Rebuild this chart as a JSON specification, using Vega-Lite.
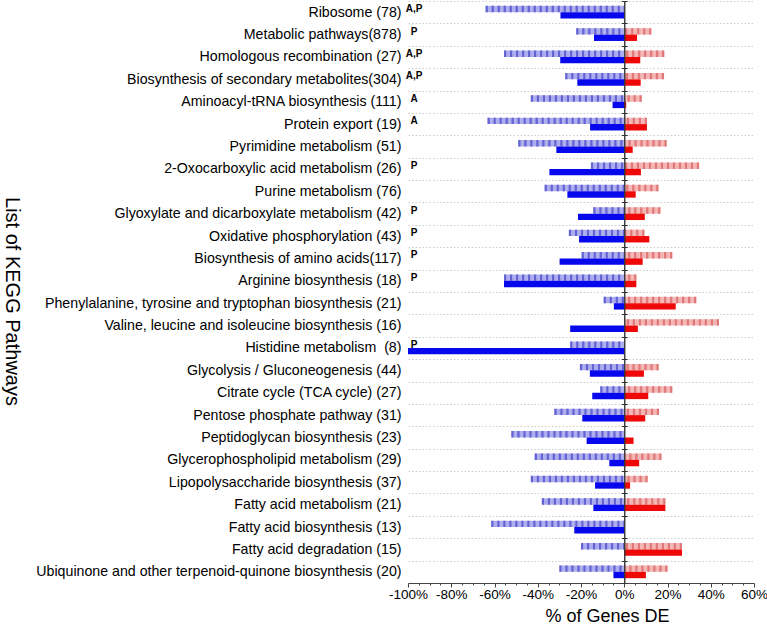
{
  "$schema": "https://vega.github.io/schema/vega-lite/v6.json",
  "width": 346,
  "height": 582,
  "autosize": "none",
  "padding": {"left": 408, "top": 1, "right": 13, "bottom": 47},
  "background": "white",
  "config": {
    "font": "Liberation Sans",
    "view": {"stroke": null},
    "axis": {"labelFont": "Liberation Sans", "titleFont": "Liberation Sans", "titleFontWeight": "normal"}
  },
  "datasets": {
    "bars": [
      {"p": "Ribosome (78)", "t": "h", "v": -64.1},
      {"p": "Ribosome (78)", "t": "s", "v": -29.5},
      {"p": "Metabolic pathways(878)", "t": "h", "v": -22.2},
      {"p": "Metabolic pathways(878)", "t": "s", "v": -14.0},
      {"p": "Metabolic pathways(878)", "t": "h", "v": 12.5},
      {"p": "Metabolic pathways(878)", "t": "s", "v": 5.9},
      {"p": "Homologous recombination (27)", "t": "h", "v": -55.6},
      {"p": "Homologous recombination (27)", "t": "s", "v": -29.6},
      {"p": "Homologous recombination (27)", "t": "h", "v": 18.5},
      {"p": "Homologous recombination (27)", "t": "s", "v": 7.4},
      {"p": "Biosynthesis of secondary metabolites(304)", "t": "h", "v": -27.3},
      {"p": "Biosynthesis of secondary metabolites(304)", "t": "s", "v": -21.7},
      {"p": "Biosynthesis of secondary metabolites(304)", "t": "h", "v": 18.4},
      {"p": "Biosynthesis of secondary metabolites(304)", "t": "s", "v": 7.6},
      {"p": "Aminoacyl-tRNA biosynthesis (111)", "t": "h", "v": -43.2},
      {"p": "Aminoacyl-tRNA biosynthesis (111)", "t": "s", "v": -5.4},
      {"p": "Aminoacyl-tRNA biosynthesis (111)", "t": "h", "v": 8.1},
      {"p": "Aminoacyl-tRNA biosynthesis (111)", "t": "s", "v": 0.9},
      {"p": "Protein export (19)", "t": "h", "v": -63.2},
      {"p": "Protein export (19)", "t": "s", "v": -15.8},
      {"p": "Protein export (19)", "t": "h", "v": 10.5},
      {"p": "Protein export (19)", "t": "s", "v": 10.5},
      {"p": "Pyrimidine metabolism (51)", "t": "h", "v": -49.0},
      {"p": "Pyrimidine metabolism (51)", "t": "s", "v": -31.4},
      {"p": "Pyrimidine metabolism (51)", "t": "h", "v": 19.6},
      {"p": "Pyrimidine metabolism (51)", "t": "s", "v": 3.9},
      {"p": "2-Oxocarboxylic acid metabolism (26)", "t": "h", "v": -15.4},
      {"p": "2-Oxocarboxylic acid metabolism (26)", "t": "s", "v": -34.6},
      {"p": "2-Oxocarboxylic acid metabolism (26)", "t": "h", "v": 34.6},
      {"p": "2-Oxocarboxylic acid metabolism (26)", "t": "s", "v": 7.7},
      {"p": "Purine metabolism (76)", "t": "h", "v": -36.8},
      {"p": "Purine metabolism (76)", "t": "s", "v": -26.3},
      {"p": "Purine metabolism (76)", "t": "h", "v": 15.8},
      {"p": "Purine metabolism (76)", "t": "s", "v": 5.3},
      {"p": "Glyoxylate and dicarboxylate metabolism (42)", "t": "h", "v": -14.3},
      {"p": "Glyoxylate and dicarboxylate metabolism (42)", "t": "s", "v": -21.4},
      {"p": "Glyoxylate and dicarboxylate metabolism (42)", "t": "h", "v": 16.7},
      {"p": "Glyoxylate and dicarboxylate metabolism (42)", "t": "s", "v": 9.5},
      {"p": "Oxidative phosphorylation (43)", "t": "h", "v": -25.6},
      {"p": "Oxidative phosphorylation (43)", "t": "s", "v": -20.9},
      {"p": "Oxidative phosphorylation (43)", "t": "h", "v": 9.3},
      {"p": "Oxidative phosphorylation (43)", "t": "s", "v": 11.6},
      {"p": "Biosynthesis of amino acids(117)", "t": "h", "v": -19.7},
      {"p": "Biosynthesis of amino acids(117)", "t": "s", "v": -29.9},
      {"p": "Biosynthesis of amino acids(117)", "t": "h", "v": 22.2},
      {"p": "Biosynthesis of amino acids(117)", "t": "s", "v": 8.5},
      {"p": "Arginine biosynthesis (18)", "t": "h", "v": -55.6},
      {"p": "Arginine biosynthesis (18)", "t": "s", "v": -55.6},
      {"p": "Arginine biosynthesis (18)", "t": "h", "v": 5.6},
      {"p": "Arginine biosynthesis (18)", "t": "s", "v": 5.6},
      {"p": "Phenylalanine, tyrosine and tryptophan biosynthesis (21)", "t": "h", "v": -9.5},
      {"p": "Phenylalanine, tyrosine and tryptophan biosynthesis (21)", "t": "s", "v": -4.8},
      {"p": "Phenylalanine, tyrosine and tryptophan biosynthesis (21)", "t": "h", "v": 33.3},
      {"p": "Phenylalanine, tyrosine and tryptophan biosynthesis (21)", "t": "s", "v": 23.8},
      {"p": "Valine, leucine and isoleucine biosynthesis (16)", "t": "s", "v": -25.0},
      {"p": "Valine, leucine and isoleucine biosynthesis (16)", "t": "h", "v": 43.8},
      {"p": "Valine, leucine and isoleucine biosynthesis (16)", "t": "s", "v": 6.3},
      {"p": "Histidine metabolism\u00a0 (8)", "t": "h", "v": -25.0},
      {"p": "Histidine metabolism\u00a0 (8)", "t": "s", "v": -100},
      {"p": "Glycolysis / Gluconeogenesis (44)", "t": "h", "v": -20.5},
      {"p": "Glycolysis / Gluconeogenesis (44)", "t": "s", "v": -15.9},
      {"p": "Glycolysis / Gluconeogenesis (44)", "t": "h", "v": 15.9},
      {"p": "Glycolysis / Gluconeogenesis (44)", "t": "s", "v": 9.1},
      {"p": "Citrate cycle (TCA cycle) (27)", "t": "h", "v": -11.1},
      {"p": "Citrate cycle (TCA cycle) (27)", "t": "s", "v": -14.8},
      {"p": "Citrate cycle (TCA cycle) (27)", "t": "h", "v": 22.2},
      {"p": "Citrate cycle (TCA cycle) (27)", "t": "s", "v": 11.1},
      {"p": "Pentose phosphate pathway (31)", "t": "h", "v": -32.3},
      {"p": "Pentose phosphate pathway (31)", "t": "s", "v": -19.4},
      {"p": "Pentose phosphate pathway (31)", "t": "h", "v": 16.1},
      {"p": "Pentose phosphate pathway (31)", "t": "s", "v": 9.7},
      {"p": "Peptidoglycan biosynthesis (23)", "t": "h", "v": -52.2},
      {"p": "Peptidoglycan biosynthesis (23)", "t": "s", "v": -17.4},
      {"p": "Peptidoglycan biosynthesis (23)", "t": "s", "v": 4.3},
      {"p": "Glycerophospholipid metabolism (29)", "t": "h", "v": -41.4},
      {"p": "Glycerophospholipid metabolism (29)", "t": "s", "v": -6.9},
      {"p": "Glycerophospholipid metabolism (29)", "t": "h", "v": 17.2},
      {"p": "Glycerophospholipid metabolism (29)", "t": "s", "v": 6.9},
      {"p": "Lipopolysaccharide biosynthesis (37)", "t": "h", "v": -43.2},
      {"p": "Lipopolysaccharide biosynthesis (37)", "t": "s", "v": -13.5},
      {"p": "Lipopolysaccharide biosynthesis (37)", "t": "h", "v": 10.8},
      {"p": "Lipopolysaccharide biosynthesis (37)", "t": "s", "v": 2.7},
      {"p": "Fatty acid metabolism (21)", "t": "h", "v": -38.1},
      {"p": "Fatty acid metabolism (21)", "t": "s", "v": -14.3},
      {"p": "Fatty acid metabolism (21)", "t": "h", "v": 19.0},
      {"p": "Fatty acid metabolism (21)", "t": "s", "v": 19.0},
      {"p": "Fatty acid biosynthesis (13)", "t": "h", "v": -61.5},
      {"p": "Fatty acid biosynthesis (13)", "t": "s", "v": -23.1},
      {"p": "Fatty acid degradation (15)", "t": "h", "v": -20.0},
      {"p": "Fatty acid degradation (15)", "t": "h", "v": 26.7},
      {"p": "Fatty acid degradation (15)", "t": "s", "v": 26.7},
      {"p": "Ubiquinone and other terpenoid-quinone biosynthesis (20)", "t": "h", "v": -30.0},
      {"p": "Ubiquinone and other terpenoid-quinone biosynthesis (20)", "t": "s", "v": -5.0},
      {"p": "Ubiquinone and other terpenoid-quinone biosynthesis (20)", "t": "h", "v": 20.0},
      {"p": "Ubiquinone and other terpenoid-quinone biosynthesis (20)", "t": "s", "v": 10.0}
    ],
    "ann": [
      {"p": "Ribosome (78)", "a": "A,P"},
      {"p": "Metabolic pathways(878)", "a": "P"},
      {"p": "Homologous recombination (27)", "a": "A,P"},
      {"p": "Biosynthesis of secondary metabolites(304)", "a": "A,P"},
      {"p": "Aminoacyl-tRNA biosynthesis (111)", "a": "A"},
      {"p": "Protein export (19)", "a": "A"},
      {"p": "2-Oxocarboxylic acid metabolism (26)", "a": "P"},
      {"p": "Glyoxylate and dicarboxylate metabolism (42)", "a": "P"},
      {"p": "Oxidative phosphorylation (43)", "a": "P"},
      {"p": "Biosynthesis of amino acids(117)", "a": "P"},
      {"p": "Arginine biosynthesis (18)", "a": "P"},
      {"p": "Histidine metabolism\u00a0 (8)", "a": "P"}
    ]
  },
  "encoding": {
    "y": {
      "field": "p", "type": "nominal", "axis": null,
      "scale": {"paddingInner": 0, "paddingOuter": 0, "domain": ["Ribosome (78)", "Metabolic pathways(878)", "Homologous recombination (27)", "Biosynthesis of secondary metabolites(304)", "Aminoacyl-tRNA biosynthesis (111)", "Protein export (19)", "Pyrimidine metabolism (51)", "2-Oxocarboxylic acid metabolism (26)", "Purine metabolism (76)", "Glyoxylate and dicarboxylate metabolism (42)", "Oxidative phosphorylation (43)", "Biosynthesis of amino acids(117)", "Arginine biosynthesis (18)", "Phenylalanine, tyrosine and tryptophan biosynthesis (21)", "Valine, leucine and isoleucine biosynthesis (16)", "Histidine metabolism\u00a0 (8)", "Glycolysis / Gluconeogenesis (44)", "Citrate cycle (TCA cycle) (27)", "Pentose phosphate pathway (31)", "Peptidoglycan biosynthesis (23)", "Glycerophospholipid metabolism (29)", "Lipopolysaccharide biosynthesis (37)", "Fatty acid metabolism (21)", "Fatty acid biosynthesis (13)", "Fatty acid degradation (15)", "Ubiquinone and other terpenoid-quinone biosynthesis (20)"]}
    }
  },
  "layer": [
    {
      "data": {"name": "bars"},
      "transform": [{"filter": "datum.t == 'h'"}],
      "mark": {"type": "bar"},
      "encoding": {
        "x": {
          "field": "v", "type": "quantitative",
          "scale": {"domain": [-100, 60], "nice": false, "zero": false},
          "axis": {
            "orient": "bottom", "values": [-100, -80, -60, -40, -20, 0, 20, 40, 60],
            "labelExpr": "datum.value + '%'", "labelFontSize": 13.5, "labelColor": "#000",
            "labelPadding": 0, "labelFlush": false, "labelOverlap": false,
            "tickSize": 4, "tickColor": "#444", "domainColor": "#444", "grid": false,
            "title": "% of Genes DE", "titleFontSize": 18, "titleColor": "#000",
            "titleX": 199, "titleY": 24, "titleAlign": "center", "titleBaseline": "top", "zindex": 1
          }
        },
        "x2": {"datum": 0},
        "y": {
          "field": "p", "type": "nominal",
          "scale": {"paddingInner": 0, "paddingOuter": 0, "domain": ["Ribosome (78)", "Metabolic pathways(878)", "Homologous recombination (27)", "Biosynthesis of secondary metabolites(304)", "Aminoacyl-tRNA biosynthesis (111)", "Protein export (19)", "Pyrimidine metabolism (51)", "2-Oxocarboxylic acid metabolism (26)", "Purine metabolism (76)", "Glyoxylate and dicarboxylate metabolism (42)", "Oxidative phosphorylation (43)", "Biosynthesis of amino acids(117)", "Arginine biosynthesis (18)", "Phenylalanine, tyrosine and tryptophan biosynthesis (21)", "Valine, leucine and isoleucine biosynthesis (16)", "Histidine metabolism\u00a0 (8)", "Glycolysis / Gluconeogenesis (44)", "Citrate cycle (TCA cycle) (27)", "Pentose phosphate pathway (31)", "Peptidoglycan biosynthesis (23)", "Glycerophospholipid metabolism (29)", "Lipopolysaccharide biosynthesis (37)", "Fatty acid metabolism (21)", "Fatty acid biosynthesis (13)", "Fatty acid degradation (15)", "Ubiquinone and other terpenoid-quinone biosynthesis (20)"]},
          "axis": {
            "orient": "left", "title": "List of KEGG Pathways", "titleFontSize": 20, "titleColor": "#000",
            "titleAngle": 90, "titleX": -397, "titleY": 300, "titleAlign": "center", "titleBaseline": "middle",
            "labelFontSize": 14.2, "labelColor": "#000", "labelPadding": 7, "labelLimit": 0,
            "ticks": false, "tickSize": 0, "domain": false,
            "grid": true, "gridColor": "#cccccc", "gridDash": [1.5, 2], "tickBand": "extent", "zindex": 0
          }
        },
        "yOffset": {"field": "t", "type": "nominal", "scale": {"domain": ["h", "s"], "paddingInner": 0, "paddingOuter": 0.75}},
        "color": {"condition": {"test": "datum.v < 0", "value": "#aeaeef"}, "value": "#f5b6b6"}
      }
    },
    {
      "data": {"name": "bars"},
      "transform": [{"filter": "datum.t == 'h'"}],
      "mark": {"type": "rule", "strokeWidth": 6.4, "strokeDash": [2.2, 3.8], "strokeCap": "butt", "yOffset": -3.2},
      "encoding": {
        "x": {"field": "v", "type": "quantitative", "axis": null},
        "x2": {"datum": 0},
        "y": {
          "field": "p", "type": "nominal",
          "scale": {"paddingInner": 0, "paddingOuter": 0, "domain": ["Ribosome (78)", "Metabolic pathways(878)", "Homologous recombination (27)", "Biosynthesis of secondary metabolites(304)", "Aminoacyl-tRNA biosynthesis (111)", "Protein export (19)", "Pyrimidine metabolism (51)", "2-Oxocarboxylic acid metabolism (26)", "Purine metabolism (76)", "Glyoxylate and dicarboxylate metabolism (42)", "Oxidative phosphorylation (43)", "Biosynthesis of amino acids(117)", "Arginine biosynthesis (18)", "Phenylalanine, tyrosine and tryptophan biosynthesis (21)", "Valine, leucine and isoleucine biosynthesis (16)", "Histidine metabolism\u00a0 (8)", "Glycolysis / Gluconeogenesis (44)", "Citrate cycle (TCA cycle) (27)", "Pentose phosphate pathway (31)", "Peptidoglycan biosynthesis (23)", "Glycerophospholipid metabolism (29)", "Lipopolysaccharide biosynthesis (37)", "Fatty acid metabolism (21)", "Fatty acid biosynthesis (13)", "Fatty acid degradation (15)", "Ubiquinone and other terpenoid-quinone biosynthesis (20)"]},
          "axis": {
            "orient": "left", "offset": -216.25, "labels": false, "title": null,
            "ticks": true, "tickSize": 3, "tickColor": "#333", "tickBand": "extent",
            "domain": true, "domainColor": "#333", "grid": false, "zindex": 1
          }
        },
        "color": {"condition": {"test": "datum.v < 0", "value": "#6363d4"}, "value": "#e07878"}
      }
    },
    {
      "data": {"name": "bars"},
      "transform": [{"filter": "datum.t == 's'"}],
      "mark": {"type": "bar"},
      "encoding": {
        "x": {
          "field": "v", "type": "quantitative",
          "axis": {
            "orient": "bottom", "values": [-95, -90, -85, -75, -70, -65, -55, -50, -45, -35, -30, -25, -15, -10, -5, 5, 10, 15, 25, 30, 35, 45, 50, 55],
            "labels": false, "tickSize": 2, "tickColor": "#444", "domain": false, "grid": false, "title": null, "zindex": 1
          }
        },
        "x2": {"datum": 0},
        "y": {
          "field": "p", "type": "nominal",
          "scale": {"paddingInner": 0, "paddingOuter": 0, "domain": ["Ribosome (78)", "Metabolic pathways(878)", "Homologous recombination (27)", "Biosynthesis of secondary metabolites(304)", "Aminoacyl-tRNA biosynthesis (111)", "Protein export (19)", "Pyrimidine metabolism (51)", "2-Oxocarboxylic acid metabolism (26)", "Purine metabolism (76)", "Glyoxylate and dicarboxylate metabolism (42)", "Oxidative phosphorylation (43)", "Biosynthesis of amino acids(117)", "Arginine biosynthesis (18)", "Phenylalanine, tyrosine and tryptophan biosynthesis (21)", "Valine, leucine and isoleucine biosynthesis (16)", "Histidine metabolism\u00a0 (8)", "Glycolysis / Gluconeogenesis (44)", "Citrate cycle (TCA cycle) (27)", "Pentose phosphate pathway (31)", "Peptidoglycan biosynthesis (23)", "Glycerophospholipid metabolism (29)", "Lipopolysaccharide biosynthesis (37)", "Fatty acid metabolism (21)", "Fatty acid biosynthesis (13)", "Fatty acid degradation (15)", "Ubiquinone and other terpenoid-quinone biosynthesis (20)"]},
          "axis": {
            "orient": "right", "offset": -129.75, "labels": false, "title": null,
            "ticks": true, "tickSize": 3, "tickColor": "#333", "tickBand": "extent",
            "domain": true, "domainColor": "#333", "grid": false, "zindex": 1
          }
        },
        "yOffset": {"field": "t", "type": "nominal", "scale": {"domain": ["h", "s"], "paddingInner": 0, "paddingOuter": 0.75}},
        "color": {"condition": {"test": "datum.v < 0", "value": "#0808ec"}, "value": "#ee0808"}
      }
    },
    {
      "data": {"name": "ann"},
      "mark": {"type": "text", "fontWeight": "bold", "fontSize": 10, "dx": 6, "dy": -3, "align": "center", "baseline": "middle", "color": "#000"},
      "encoding": {
        "x": {"datum": -100, "type": "quantitative", "axis": null},
        "text": {"field": "a"}
      }
    }
  ],
  "resolve": {"axis": {"x": "independent", "y": "independent"}}
}
